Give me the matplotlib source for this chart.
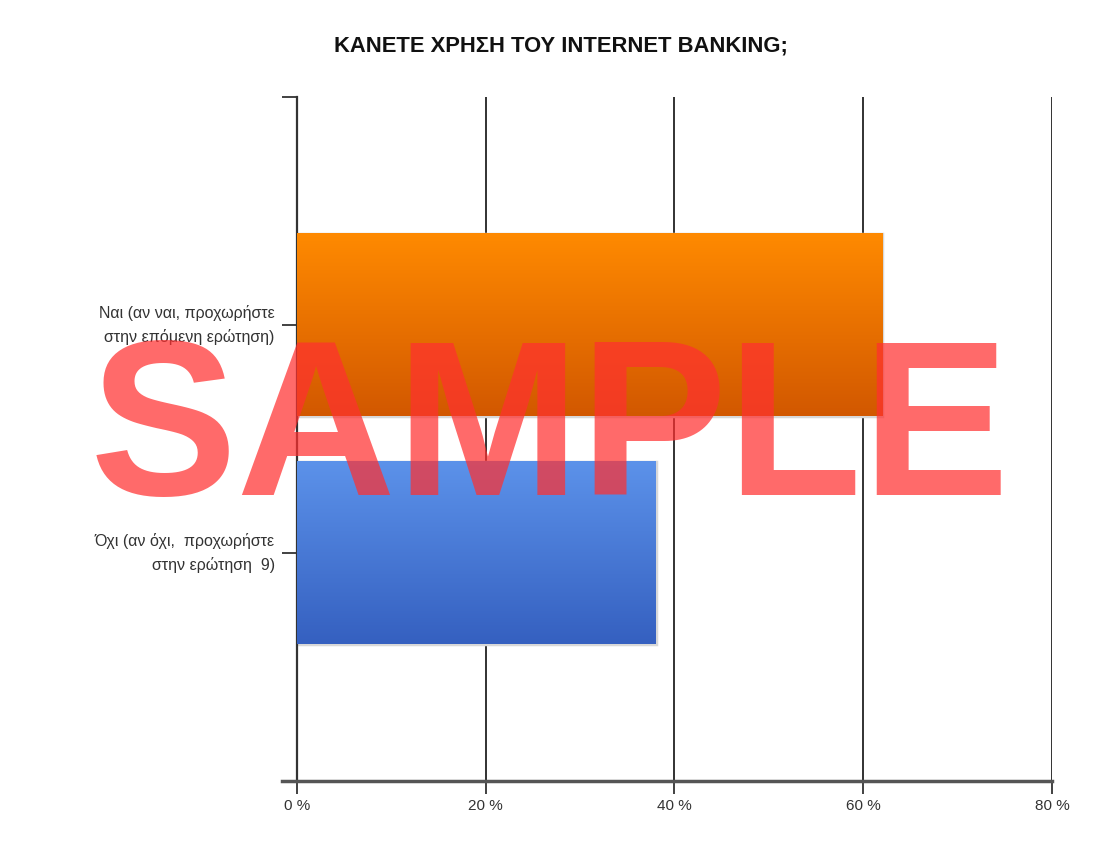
import numpy as np
import matplotlib
matplotlib.use("Agg")
import matplotlib.pyplot as plt
from matplotlib.colors import LinearSegmentedColormap

# ── Data ─────────────────────────────────────────────────────────────────────
categories = ["Ναι (αν ναι, προχωρήστε\nστην επόμενη ερώτηση)",
              "Όχι (αν όχι,  προχωρήστε\nστην ερώτηση  9)"]
values = [62, 38]
x_ticks = [0, 20, 40, 60, 80]
x_tick_labels = ["0 %", "20 %", "40 %", "60 %", "80 %"]
title = "ΚΑΝΕΤΕ ΧΡΗΣΗ ΤΟΥ INTERNET BANKING;"

# top / bottom gradient colours per bar
bar_grads = [("#FF8A00", "#D25800"), ("#5C92EA", "#3560C0")]

plt.rcParams['font.family'] = ['Liberation Sans', 'DejaVu Sans']

fig = plt.figure(figsize=(11.1, 8.46), dpi=100)
ax = fig.add_axes([0.2676, 0.0768, 0.6801, 0.8085])

ypos = [1, 0]          # first category on top
bar_h = 0.8

for y, v, (c_top, c_bot) in zip(ypos, values, bar_grads):
    # soft grey shadow/border
    ax.barh(y, v, height=bar_h, left=0, color="none", edgecolor="#d8d8d8",
            linewidth=2.5, zorder=2)
    cmap = LinearSegmentedColormap.from_list("g", [c_top, c_bot])
    grad = np.linspace(0, 1, 256).reshape(-1, 1)
    ax.imshow(grad, cmap=cmap, aspect="auto", origin="upper",
              extent=(0, v, y - bar_h / 2, y + bar_h / 2), zorder=3)

ax.set_xlim(0, 80)
ax.set_ylim(-1, 2)

ax.set_xticks(x_ticks)
ax.set_xticklabels(x_tick_labels, fontsize=11, color="#333333")
ax.set_yticks(ypos)
ax.set_yticklabels(categories, fontsize=11.5, color="#333333", ha="right",
                   va="center", linespacing=1.55)
ax.set_yticks([2], minor=True)

ax.tick_params(axis="x", length=9, width=1.3, color="#333333", pad=4)
ax.tick_params(axis="y", which="both", length=11, width=1.3, color="#333333", pad=5)

ax.grid(axis="x", color="#222222", linewidth=1.3, zorder=1)
ax.set_axisbelow(True)

for s in ["top", "right"]:
    ax.spines[s].set_visible(False)
ax.spines["left"].set_color("#333333")
ax.spines["left"].set_linewidth(1.6)
ax.spines["bottom"].set_color("#555555")
ax.spines["bottom"].set_linewidth(2.5)
ax.spines["bottom"].set_bounds(-1.6, 80)

fig.text(0.505, 0.946, title, ha="center", va="center", fontsize=15.8,
         fontweight="bold", color="#111111")

# watermark
fig.text(0.495, 0.415, "SAMPLE", ha="center", va="baseline", fontsize=159,
         fontweight="bold", color="#FF3030", alpha=0.72, zorder=10)

fig.savefig("out.png", dpi=100, facecolor="white")
